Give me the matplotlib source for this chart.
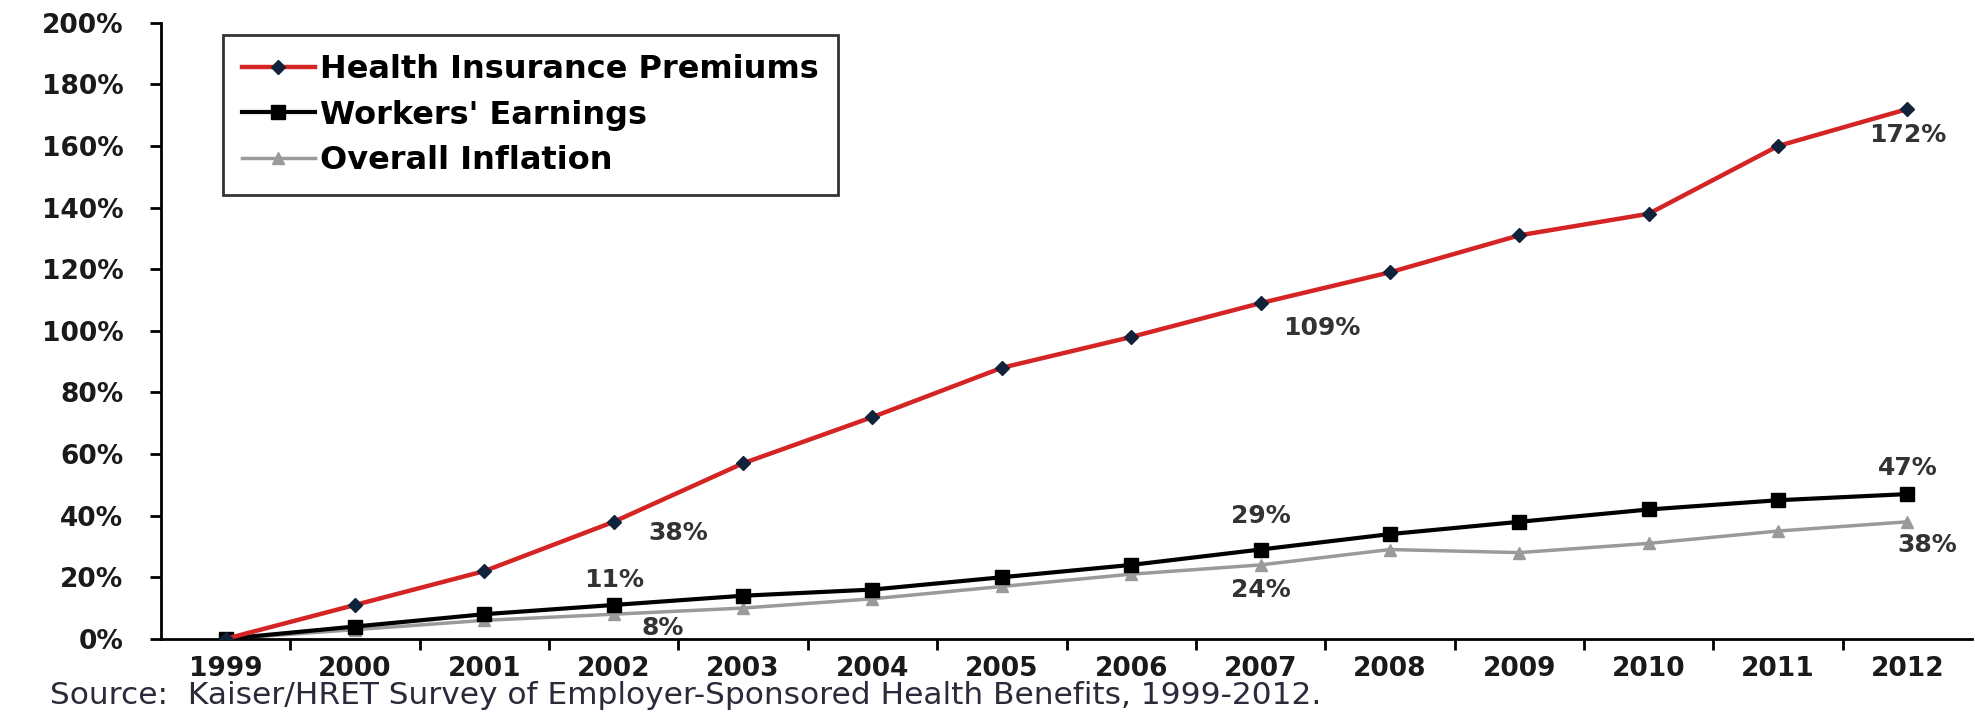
import matplotlib.pyplot as plt
import numpy as np

years = ['1999', '2000', '2001', '2002', '2003', '2004', '2005',
         '2006', '2007', '2008', '2009', '2010', '2011', '2012']
premiums = [0, 11, 22, 38, 57, 72, 88, 98, 109, 119, 131, 138, 160, 172]
earnings = [0, 4, 8, 11, 14, 16, 20, 24, 29, 34, 38, 42, 45, 47]
inflation = [0, 3, 6, 8, 10, 13, 17, 21, 24, 29, 28, 31, 35, 38]

# labelled points: (series, year index, dx, dy in data units)
notes = [
    (premiums, 3, 0.5, -3.5), (premiums, 8, 0.47, -8), (premiums, 13, 0.0, -8.5),
    (earnings, 3, 0.0, 8), (earnings, 8, 0.0, 11), (earnings, 13, 0.0, 8.5),
    (inflation, 3, 0.38, -4.5), (inflation, 8, 0.0, -8), (inflation, 13, 0.15, -7.5),
]

fig = plt.figure(figsize=(19.75, 7.13), dpi=100)
ax = fig.add_axes([0.0815, 0.104, 0.917, 0.864])

x = np.arange(len(years))
ax.plot(x, premiums, color='#d42424', lw=3.2, marker='D', ms=7,
        mfc='#10233a', mec='#10233a', label='Health Insurance Premiums', zorder=4)
ax.plot(x, earnings, color='black', lw=3, marker='s', ms=10,
        label="Workers' Earnings", zorder=3)
ax.plot(x, inflation, color='#9a9a9a', lw=2.5, marker='^', ms=9,
        label='Overall Inflation', zorder=2)

for series, i, dx, dy in notes:
    ax.text(x[i] + dx, series[i] + dy, f'{series[i]}%', ha='center', va='center',
            fontsize=18, fontweight='bold', color='#333333')

ax.set_xlim(-0.5, len(years) - 0.5)
ax.set_ylim(0, 200)
ax.set_yticks(range(0, 201, 20))
ax.set_yticklabels([f'{v}%' for v in range(0, 201, 20)])
ax.set_xticks(x)
ax.set_xticklabels(years)
ax.set_xticks(np.arange(0.5, len(years) - 1, 1), minor=True)
ax.tick_params(axis='x', which='major', length=0, pad=12)
ax.tick_params(axis='x', which='minor', length=8, width=2, direction='out')
ax.tick_params(axis='y', length=8, width=2, pad=19)
for lab in ax.get_xticklabels() + ax.get_yticklabels():
    lab.set_fontsize(19)
    lab.set_fontweight('bold')
    lab.set_color('#1a1a1a')

for side in ['top', 'right']:
    ax.spines[side].set_visible(False)
for side in ['left', 'bottom']:
    ax.spines[side].set_linewidth(2)

leg = ax.legend(loc='upper left', bbox_to_anchor=(0.034, 0.98), borderaxespad=0,
                fancybox=False, edgecolor='black', handlelength=2.3,
                handletextpad=0.15, borderpad=0.6, labelspacing=0.45,
                prop={'weight': 'bold', 'size': 23})
leg.get_frame().set_linewidth(2)

fig.text(0.0255, 0.012, 'Source:  Kaiser/HRET Survey of Employer-Sponsored Health Benefits, 1999-2012.',
         fontsize=22.5, family='DejaVu Sans', color='#2a2a3a')

fig.savefig('out.png', dpi=100)
